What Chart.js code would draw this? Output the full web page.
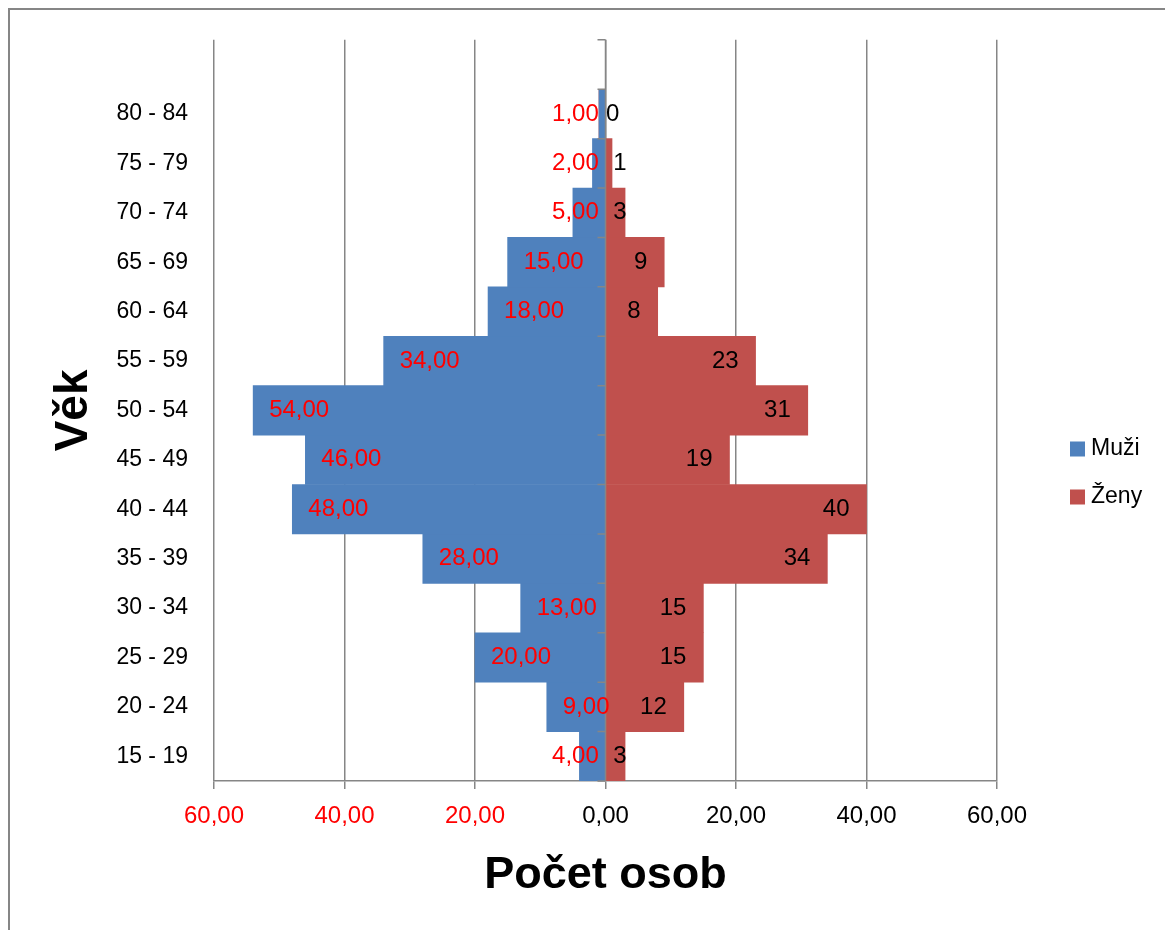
<!DOCTYPE html>
<html>
<head>
<meta charset="utf-8">
<script src="https://cdn.jsdelivr.net/npm/chart.js@4.4.1/dist/chart.umd.min.js"></script>
<style>
  html, body { margin: 0; padding: 0; background: #fff; }
  #wrap { position: relative; width: 1165px; height: 930px; }
</style>
</head>
<body>
<div id="wrap"><canvas id="pyramid"></canvas></div>
<script>
// ===== Věková pyramida — Muži / Ženy =====
var ageGroups = ['15 - 19', '20 - 24', '25 - 29', '30 - 34', '35 - 39', '40 - 44', '45 - 49',
                 '50 - 54', '55 - 59', '60 - 64', '65 - 69', '70 - 74', '75 - 79', '80 - 84'];
var men   = [4, 9, 20, 13, 28, 48, 46, 54, 34, 18, 15, 5, 2, 1];
var women = [3, 12, 15, 15, 34, 40, 19, 31, 23, 8, 9, 3, 1, 0];
var xTicks = [-60, -40, -20, 0, 20, 40, 60];

var FONT = '"Liberation Sans", Arial, sans-serif';
var GRID = '#868686';
var BLUE = '#4F81BD', RED = '#C0504D';

function fmt(v) { return Math.abs(v).toFixed(2).replace('.', ','); }

// prázdná kategorie nahoře (jako v Excelu)
var labels = ageGroups.concat(['']);
var menData = men.map(function(v) { return -v; }).concat([null]);
var womenData = women.concat([null]);

// ---- rámeček ----
var frame = {
  id: 'frame',
  beforeDraw: function(chart) {
    var c = chart.ctx;
    c.save();
    c.strokeStyle = GRID; c.lineWidth = 2;
    c.beginPath();
    c.moveTo(9, chart.height); c.lineTo(9, 9); c.lineTo(chart.width, 9);
    c.stroke();
    c.restore();
  }
};

// ---- nulová osa + značky kategorií ----
var zeroAxis = {
  id: 'zeroAxis',
  afterDatasetsDraw: function(chart) {
    var c = chart.ctx, a = chart.chartArea;
    var x0 = chart.scales.x.getPixelForValue(0);
    var n = chart.data.labels.length, step = (a.bottom - a.top) / n;
    c.save();
    c.strokeStyle = GRID; c.lineWidth = 1.5;
    c.beginPath();
    c.moveTo(x0, a.top); c.lineTo(x0, a.bottom);
    for (var k = 0; k <= n; k++) {
      var y = a.top + k * step;
      c.moveTo(x0 - 8, y); c.lineTo(x0, y);
    }
    c.stroke();
    c.restore();
  }
};

// ---- popisky hodnot ----
var barLabels = {
  id: 'barLabels',
  afterDatasetsDraw: function(chart) {
    var c = chart.ctx;
    c.save();
    c.font = '24px ' + FONT;
    c.textBaseline = 'middle';
    c.textAlign = 'left';
    chart.data.datasets.forEach(function(ds, di) {
      var meta = chart.getDatasetMeta(di);
      meta.data.forEach(function(bar, i) {
        var v = ds.data[i];
        if (v === null || v === undefined) return;
        var text = di === 0 ? fmt(v) : String(v);
        var w = c.measureText(text).width, x;
        if (di === 0) {
          var len = bar.base - bar.x;
          x = len > w + 8 ? bar.x + 16 : bar.base - 6 - w;
          c.fillStyle = '#FF0000';
        } else {
          x = Math.max(bar.x - 17 - w, bar.base + 7);
          c.fillStyle = '#000000';
        }
        c.fillText(text, x, bar.y);
      });
    });
    c.restore();
  }
};

// ---- legenda vpravo ----
var sideLegend = {
  id: 'sideLegend',
  afterDraw: function(chart) {
    var c = chart.ctx;
    var cy = chart.height / 2 + 8;
    c.save();
    c.font = '23px ' + FONT;
    c.textBaseline = 'middle';
    c.textAlign = 'left';
    chart.data.datasets.forEach(function(ds, i) {
      var y = cy + (i - 0.5) * 48;
      c.fillStyle = ds.backgroundColor;
      c.fillRect(1070, y - 7.5, 15, 15);
      c.fillStyle = '#000';
      c.fillText(ds.label, 1091, y);
    });
    c.restore();
  }
};

new Chart(document.getElementById('pyramid'), {
  type: 'bar',
  data: {
    labels: labels,
    datasets: [
      { label: 'Muži', data: menData, backgroundColor: BLUE, borderWidth: 0, barPercentage: 1, categoryPercentage: 1 },
      { label: 'Ženy', data: womenData, backgroundColor: RED, borderWidth: 0, barPercentage: 1, categoryPercentage: 1 }
    ]
  },
  options: {
    indexAxis: 'y',
    responsive: true, maintainAspectRatio: false, animation: false,
    layout: { padding: { top: 38, right: 168, left: 0, bottom: 0 } },
    plugins: { legend: { display: false }, tooltip: { enabled: false } },
    scales: {
      x: {
        stacked: true, min: -60, max: 60,
        afterBuildTicks: function(s) { s.ticks = xTicks.map(function(v) { return { value: v }; }); },
        afterFit: function(s) { s.height = 149; },
        grid: { color: GRID, lineWidth: 1.5, tickLength: 8, drawTicks: true },
        border: { display: true, color: GRID, width: 1.5 },
        ticks: {
          font: { family: FONT, size: 24 }, padding: 13, maxRotation: 0,
          color: function(ctx) { return ctx.tick && ctx.tick.value < 0 ? '#FF0000' : '#000000'; },
          callback: function(v) { return fmt(v); }
        },
        title: { display: true, text: 'Počet osob', color: '#000', font: { family: FONT, size: 45, weight: 'bold' }, padding: { top: 0, bottom: 27 } }
      },
      y: {
        stacked: true, reverse: true,
        afterFit: function(s) { s.width = 214; },
        grid: { display: false, drawTicks: false },
        border: { display: false },
        ticks: { font: { family: FONT, size: 23 }, color: '#000', padding: 26 },
        title: { display: true, text: 'Věk', color: '#000', font: { family: FONT, size: 46, weight: 'bold' }, padding: { top: 47, bottom: 0 } }
      }
    }
  },
  plugins: [frame, zeroAxis, barLabels, sideLegend]
});
</script>
</body>
</html>
